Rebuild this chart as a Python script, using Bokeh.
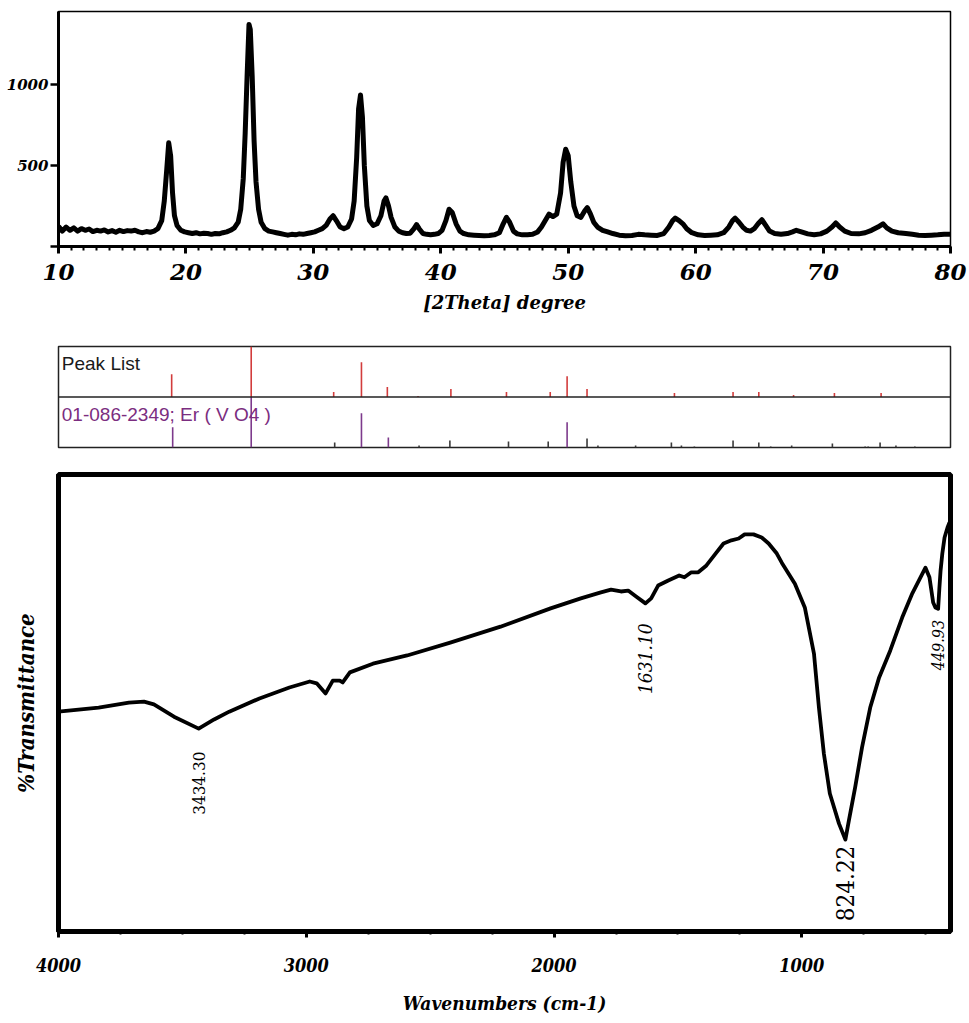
from bokeh.plotting import figure
from bokeh.layouts import column
from bokeh.models import Range1d, FixedTicker, Label, Span
from bokeh.core.properties import value
from bokeh.embed import file_html
from bokeh.resources import INLINE
import math

# ---------------- XRD pattern ----------------
two_theta = [10.0, 10.3, 10.6, 10.9, 11.2, 11.5, 11.8, 12.1, 12.4, 12.7, 13.0, 13.3, 13.6, 13.9,
             14.2, 14.5, 14.8, 15.1, 15.4, 15.7, 16.0, 16.3, 16.6, 16.9, 17.2, 17.5, 17.8, 18.1,
             18.3, 18.5, 18.65, 18.8, 18.95, 19.1, 19.3, 19.6, 19.9, 20.2, 20.5, 20.8, 21.1, 21.4,
             21.7, 22.0, 22.3, 22.6, 22.9, 23.2, 23.5, 23.8, 24.1, 24.3, 24.5, 24.65, 24.8, 24.95,
             25.05, 25.2, 25.35, 25.5, 25.7, 25.9, 26.2, 26.5, 26.8, 27.1, 27.4, 27.7, 28.0, 28.3,
             28.6, 28.9, 29.2, 29.5, 29.8, 30.1, 30.4, 30.7, 31.0, 31.3, 31.55, 31.8, 32.1, 32.4,
             32.7, 33.0, 33.2, 33.4, 33.55, 33.7, 33.85, 34.0, 34.2, 34.4, 34.7, 35.0, 35.3, 35.55,
             35.7, 35.9, 36.1, 36.4, 36.7, 37.0, 37.3, 37.6, 37.9, 38.1, 38.3, 38.6, 38.9, 39.2,
             39.5, 39.8, 40.1, 40.4, 40.65, 40.9, 41.2, 41.5, 41.8, 42.2, 42.6, 43.0, 43.4, 43.8,
             44.2, 44.6, 44.9, 45.15, 45.4, 45.7, 46.0, 46.4, 46.8, 47.2, 47.6, 47.9, 48.2, 48.5,
             48.8, 49.1, 49.4, 49.6, 49.8, 50.0, 50.2, 50.45, 50.7, 51.0, 51.3, 51.5, 51.75, 52.0,
             52.3, 52.7, 53.1, 53.5, 54.0, 54.5, 55.0, 55.5, 56.0, 56.5, 57.0, 57.5, 57.9, 58.2,
             58.4, 58.7, 59.0, 59.3, 59.7, 60.2, 60.7, 61.2, 61.7, 62.2, 62.6, 62.9, 63.1, 63.4,
             63.7, 64.0, 64.3, 64.6, 64.9, 65.2, 65.5, 65.8, 66.2, 66.7, 67.2, 67.6, 67.9, 68.3,
             68.8, 69.3, 69.8, 70.3, 70.7, 71.0, 71.3, 71.7, 72.2, 72.8, 73.3, 73.8, 74.3, 74.7,
             75.0, 75.4, 75.9, 76.5, 77.0, 77.5, 78.0, 78.5, 79.0, 79.5, 80.0]
intensity = [125, 95, 120, 100, 115, 95, 110, 100, 108, 92, 100, 95, 102, 90,
             98, 88, 100, 92, 98, 95, 100, 90, 85, 92, 88, 95, 110, 160,
             280, 480, 640, 560, 330, 190, 130, 100, 90, 85, 80, 85, 78, 82,
             80, 75, 80, 78, 85, 90, 100, 115, 150, 230, 420, 700, 1050, 1370,
             1340, 1050, 650, 400, 230, 150, 110, 95, 90, 85, 80, 75, 70, 75,
             72, 78, 75, 80, 85, 90, 100, 110, 130, 170, 190, 160, 120, 110,
             120, 170, 280, 550, 850, 935, 800, 500, 250, 160, 130, 140, 190, 280,
             300, 250, 180, 120, 95, 85, 80, 82, 110, 135, 110, 80, 75, 72,
             75, 80, 100, 160, 230, 210, 140, 95, 80, 72, 70, 68, 66, 68,
             72, 85, 140, 180, 150, 95, 78, 72, 72, 75, 90, 120, 160, 200,
             185, 200, 330, 520, 600, 560, 400, 250, 190, 180, 220, 240, 200, 150,
             120, 100, 90, 80, 70, 66, 68, 75, 72, 70, 68, 80, 120, 160,
             175, 160, 140, 110, 85, 72, 68, 70, 72, 85, 120, 160, 175, 150,
             120, 100, 95, 110, 140, 165, 130, 95, 80, 75, 80, 90, 100, 90,
             78, 72, 78, 95, 120, 145, 120, 95, 80, 78, 85, 100, 120, 140,
             115, 95, 85, 80, 75, 70, 68, 70, 72, 75, 75]
assert len(two_theta) == len(intensity)

# ---------------- Peak list / reference card (relative intensity, %) ----------------
peak_pos = [18.61, 24.88, 31.38, 33.57, 35.61, 38.03, 40.62, 45.00, 48.45, 49.78, 51.35,
            58.24, 62.86, 64.89, 67.63, 70.85, 74.53]
peak_rel = [45, 100, 10, 69, 20, 2, 16, 10, 10, 41, 16, 8, 10, 10, 4, 8, 8]

ref_pos = [18.69, 24.88, 31.46, 33.57, 35.69, 38.11, 40.54, 45.16, 48.29, 49.78, 51.35, 52.21,
           55.18, 58.00, 58.79, 59.81, 62.86, 64.89, 65.83, 67.48, 70.69, 73.27, 73.51, 74.45,
           75.70, 77.19]
ref_rel = [40, 100, 10, 68, 20, 4, 14, 12, 12, 50, 18, 4, 4, 10, 4, 2, 14, 10, 2, 4, 8, 2, 2,
           10, 4, 2]
ref_card = "01-086-2349; Er ( V O4 )"

# ---------------- FTIR spectrum ----------------
wavenumber = [4000, 3838, 3716, 3655, 3615, 3534, 3434.30, 3372, 3311, 3189, 3068, 2986, 2958,
              2922, 2893, 2865, 2853, 2824, 2731, 2593, 2419, 2216, 2014, 1892, 1811, 1770, 1730,
              1701, 1669, 1631.10, 1608, 1580, 1539, 1495, 1474, 1446, 1418, 1385, 1345, 1316,
              1284, 1255, 1231, 1195, 1162, 1134, 1101, 1081, 1028, 988, 951, 931, 911, 887, 850,
              824.22, 810, 785, 757, 724, 688, 643, 595, 554, 501, 485, 470, 461, 449.93, 445,
              440, 433, 424, 412, 404]
transmittance = [48.1, 49.0, 50.1, 50.3, 49.7, 47.0, 44.4, 46.4, 48.1, 51.0, 53.4, 54.7, 54.3,
                 52.1, 54.9, 54.9, 54.5, 56.7, 58.6, 60.4, 63.2, 66.7, 70.7, 72.9, 74.2, 74.8, 74.4,
                 74.6, 73.3, 71.8, 72.9, 75.7, 76.8, 77.9, 77.5, 78.6, 78.6, 80.1, 82.9, 84.9,
                 85.6, 86.0, 86.9, 86.9, 86.2, 84.9, 82.7, 80.7, 76.1, 70.9, 60.8, 49.0, 38.9, 30.2, 23.6,
                 20.1, 24.3, 31.5, 40.3, 49.0, 55.6, 61.5, 68.7, 74.0, 79.6, 77.5, 72.0, 70.9, 70.6, 75.0,
                 79.0, 82.7, 86.2, 88.4, 89.5]
assert len(wavenumber) == len(transmittance)

band_wn = [3434.30, 1631.10, 824.22, 449.93]

SERIF = "DejaVu Serif"
COND = "DejaVu Serif Condensed"
SANS = "Liberation Sans"
W = 969
# the three panels share one horizontal frame
BL, BR = 58, 19

# ---------------- XRD panel ----------------
p1 = figure(width=W, height=325, x_range=Range1d(10, 80), y_range=Range1d(0, 1450),
            output_backend="svg", toolbar_location=None,
            min_border_left=BL, min_border_right=BR, min_border_top=11, min_border_bottom=79)
p1.grid.visible = False
p1.outline_line_color = "black"
p1.outline_line_width = 1.5
p1.line(two_theta, intensity, line_color="black", line_width=5, line_join="round")

xa = p1.xaxis[0]
xa.ticker = FixedTicker(ticks=list(range(10, 81, 10)), minor_ticks=list(range(10, 81)))
xa.axis_line_width = 3
xa.major_tick_in = 0
xa.major_tick_out = 7
xa.major_tick_line_width = 3
xa.minor_tick_in = 0
xa.minor_tick_out = 4
xa.minor_tick_line_width = 2
xa.major_label_text_font = SERIF
xa.major_label_text_font_style = "bold italic"
xa.major_label_text_font_size = "23px"
xa.major_label_text_color = "black"
xa.major_label_standoff = 10
xa.axis_label = "[2Theta] degree"
xa.axis_label_text_font = SERIF
xa.axis_label_text_font_style = "bold italic"
xa.axis_label_text_font_size = "18px"
xa.axis_label_text_color = "black"
xa.axis_label_standoff = 9

ya = p1.yaxis[0]
ya.ticker = FixedTicker(ticks=[0, 500, 1000], minor_ticks=[])
ya.major_label_overrides = {0: ""}
ya.axis_line_width = 3
ya.major_tick_in = 0
ya.major_tick_out = 8
ya.major_tick_line_width = 2.5
ya.minor_tick_out = 0
ya.minor_tick_in = 0
ya.major_label_text_font = SERIF
ya.major_label_text_font_style = "bold italic"
ya.major_label_text_font_size = "15px"
ya.major_label_text_color = "black"
ya.major_label_standoff = 2

# ---------------- Peak list panel ----------------
p2 = figure(width=W, height=135, x_range=Range1d(9.69, 80), y_range=Range1d(0, 200),
            output_backend="svg", toolbar_location=None,
            x_axis_location=None, y_axis_location=None,
            min_border_left=BL, min_border_right=BR, min_border_top=21, min_border_bottom=13)
p2.grid.visible = False
p2.outline_line_color = "#222222"
p2.outline_line_width = 1.5
p2.add_layout(Span(location=100, dimension="width", line_color="#222222", line_width=1.5))

p2.segment(x0=peak_pos, y0=[100] * len(peak_pos), x1=peak_pos,
           y1=[100 + r for r in peak_rel], line_color="#d23c3c", line_width=1.6)
ref_colors = ["#7d3a8c" if r >= 20 else "#3a3a3a" for r in ref_rel]
p2.segment(x0=ref_pos, y0=[0] * len(ref_pos), x1=ref_pos, y1=ref_rel,
           line_color=ref_colors, line_width=1.6)

p2.add_layout(Label(x=9.95, y=166, text="Peak List", text_font=SANS, text_font_size="19px",
                    text_color="#1a1a1a", text_baseline="alphabetic", text_align="left"))
p2.add_layout(Label(x=9.95, y=65, text=ref_card, text_font=SANS, text_font_size="19px",
                    text_color="#7b2d80", text_baseline="alphabetic", text_align="left"))

# ---------------- FTIR panel ----------------
p3 = figure(width=W, height=563, x_range=Range1d(4000, 400), y_range=Range1d(0, 100),
            output_backend="svg", toolbar_location=None,
            min_border_left=BL, min_border_right=BR, min_border_top=14, min_border_bottom=92)
p3.grid.visible = False
p3.outline_line_color = "black"
p3.outline_line_width = 5
p3.line(wavenumber, transmittance, line_color="black", line_width=3.8, line_join="round")

fx = p3.xaxis[0]
fx.ticker = FixedTicker(ticks=[1000, 2000, 3000, 4000],
                        minor_ticks=[500 + 250 * i for i in range(14)])
fx.axis_line_width = 5
fx.major_tick_in = 0
fx.major_tick_out = 6
fx.major_tick_line_width = 3
fx.minor_tick_in = 0
fx.minor_tick_out = 3
fx.minor_tick_line_width = 2
fx.major_label_text_font = COND
fx.major_label_text_font_style = "bold italic"
fx.major_label_text_font_size = "18px"
fx.major_label_text_color = "black"
fx.major_label_standoff = 20
fx.axis_label = "Wavenumbers (cm-1)"
fx.axis_label_text_font = COND
fx.axis_label_text_font_style = "bold italic"
fx.axis_label_text_font_size = "19px"
fx.axis_label_text_color = "black"
fx.axis_label_standoff = 17

fy = p3.yaxis[0]
fy.ticker = FixedTicker(ticks=[], minor_ticks=[])
fy.axis_line_width = 5
fy.major_tick_out = 0
fy.major_tick_in = 0
fy.minor_tick_out = 0
fy.minor_tick_in = 0
fy.major_label_text_font_size = "0px"
fy.axis_label = "%Transmittance"
fy.axis_label_text_font = COND
fy.axis_label_text_font_style = "bold italic"
fy.axis_label_text_font_size = "22px"
fy.axis_label_text_color = "black"
fy.axis_label_standoff = 20

# band labels hang below each minimum, rotated to read upwards
px_per_T = (563 - 14 - 92) / 100.0
label_style = {
    3434.30: dict(gap=23, size="17px", style="normal"),
    1631.10: dict(gap=20, size="19px", style="italic"),
    824.22: dict(gap=6, size="24px", style="normal"),
    449.93: dict(gap=11, size="16px", style="italic"),
}
for w in band_wn:
    t = transmittance[wavenumber.index(w)]
    st = label_style[w]
    p3.text(x=[w], y=[t - st["gap"] / px_per_T], text=[f"{w:.2f}"], angle=math.pi / 2,
            text_align="right", text_baseline="middle", text_color="black",
            text_font=value(COND), text_font_size=st["size"], text_font_style=st["style"])

layout = column(p1, p2, p3, spacing=0)
open("out.html", "w").write(file_html(layout, INLINE))
